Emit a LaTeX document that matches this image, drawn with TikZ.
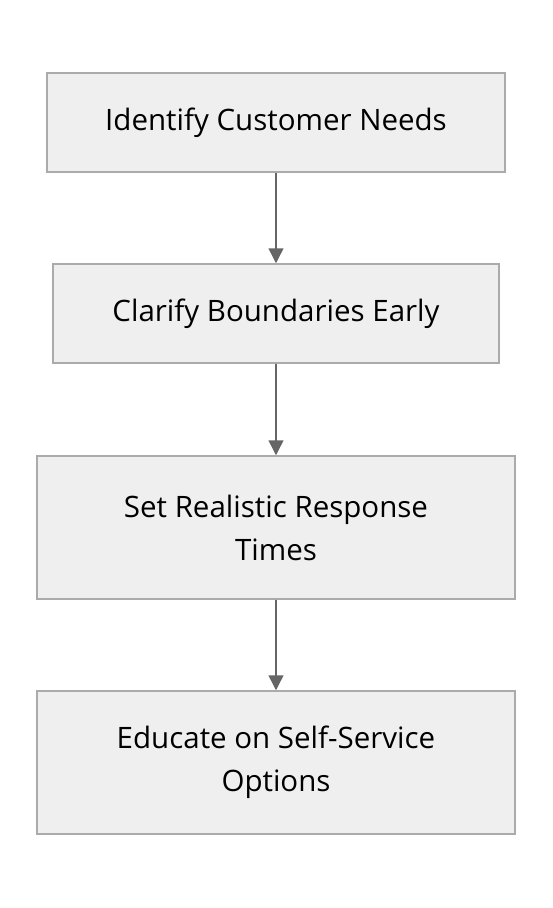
\documentclass[tikz,border=0pt]{standalone}
\usepackage{fontspec}
\setmainfont{Open Sans}
\usetikzlibrary{arrows.meta}
\definecolor{boxfill}{HTML}{EFEFEF}
\definecolor{boxline}{HTML}{ABABAB}
\definecolor{arrowline}{HTML}{666666}
\tikzset{
  stepbox/.style={draw=boxline, fill=boxfill, line width=1.5pt, align=center,
    inner sep=0pt, font=\fontsize{29.5}{43}\selectfont},
  flow/.style={draw=arrowline, line width=1.5pt, -{Triangle[length=15pt,width=15pt]}}
}
\begin{document}
\begin{tikzpicture}[x=1pt,y=-1pt]
  \useasboundingbox (0,0) rectangle (552,908);
  \node[stepbox, minimum width=458pt, minimum height=99pt] (needs) at (276,122.5) {Identify Customer Needs};
  \node[stepbox, minimum width=446pt, minimum height=99pt] (bounds) at (276,313.5) {Clarify Boundaries Early};
  \node[stepbox, minimum width=478pt, minimum height=143pt] (times) at (276,527.5) {Set Realistic Response\\Times};
  \node[stepbox, minimum width=478pt, minimum height=143pt] (educate) at (276,762.5) {Educate on Self-Service\\Options};

  \draw[flow] (needs) -- (bounds);
  \draw[flow] (bounds) -- (times);
  \draw[flow] (times) -- (educate);
\end{tikzpicture}
\end{document}
